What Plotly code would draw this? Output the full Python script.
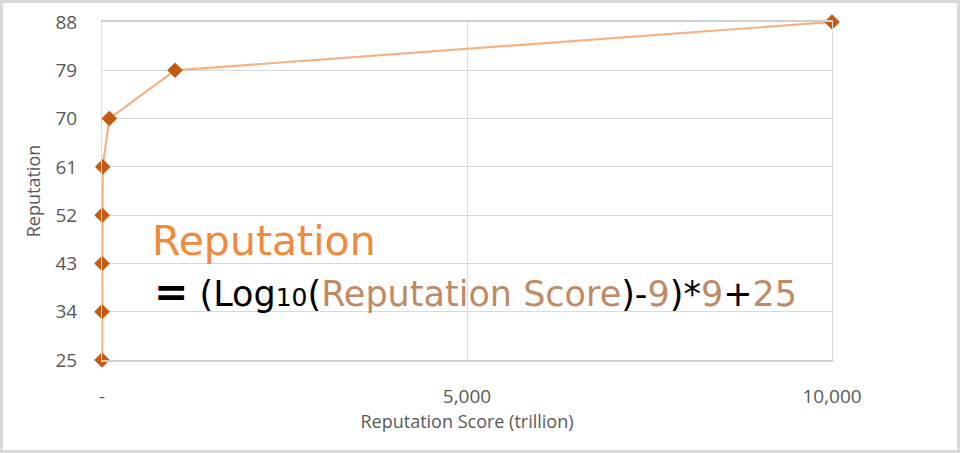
import plotly.graph_objects as go

# Data
score_trillion = [0.001, 0.01, 0.1, 1, 10, 100, 1000, 10000]
reputation = [25, 34, 43, 52, 61, 70, 79, 88]
y_ticks = [25, 34, 43, 52, 61, 70, 79, 88]
x_ticks = [0, 5000, 10000]
x_tick_labels = ["-", "5,000", "10,000"]

W, H = 960, 453
ML, MR, MT, MB = 102, 128, 22, 93
pw, ph = W - ML - MR, H - MT - MB

fig = go.Figure()
fig.add_trace(go.Scatter(
    x=score_trillion, y=reputation, mode="lines+markers",
    line=dict(color="#F4B183", width=2.2),
    marker=dict(symbol="diamond", size=12, color="#C55A11"),
    cliponaxis=False, hoverinfo="x+y", showlegend=False,
))

axis_font = dict(family="Open Sans", size=19, color="#595959")
fig.update_layout(
    width=W, height=H,
    margin=dict(l=ML, r=MR, t=MT, b=MB, autoexpand=False),
    paper_bgcolor="white", plot_bgcolor="white",
    xaxis=dict(
        range=[0, 10000], tickvals=x_ticks, ticktext=x_tick_labels,
        showgrid=True, gridcolor="#D9D9D9", gridwidth=1,
        zeroline=False, showline=True, mirror=True, linecolor="#D0D0D0", linewidth=1.5,
        ticks="", ticklabelstandoff=18,
        tickfont=axis_font,
        title=dict(text="Reputation Score (trillion)", font=dict(family="Open Sans", size=18, color="#595959"), standoff=6),
    ),
    yaxis=dict(
        range=[25, 88], tickvals=y_ticks,
        showgrid=True, gridcolor="#D9D9D9", gridwidth=1,
        zeroline=False, showline=True, mirror=True, linecolor="#D9D9D9", linewidth=1,
        ticks="", ticklabelstandoff=20,
        tickfont=axis_font,
        title=dict(text="Reputation", font=dict(family="Open Sans", size=18, color="#595959"), standoff=10),
    ),
)

# outer frame of the picture
fig.add_shape(type="rect", xref="paper", yref="paper",
              x0=-(ML - 1.5) / pw, x1=1 + (MR - 1.5) / pw,
              y0=-(MB - 1.5) / ph, y1=1 + (MT - 1.5) / ph,
              line=dict(color="#D9D9D9", width=3), fillcolor="rgba(0,0,0,0)", layer="below")

brown = "#BF8B66"
fig.add_annotation(
    xref="paper", yref="paper", x=(150 - ML) / pw, y=(360 - 241) / ph,
    xanchor="left", yanchor="middle", showarrow=False,
    text="Reputation", font=dict(family="DejaVu Sans", size=41, color="#F08A3C"),
)
formula = ("<b><span style='font-size:41px'>=</span></b>&nbsp;(Log<span style='font-size:25px'>10</span>("
           f"<span style='color:{brown}'>Reputation Score</span>)-"
           f"<span style='color:{brown}'>9</span>)*"
           f"<span style='color:{brown}'>9</span>+"
           f"<span style='color:{brown}'>25</span>")
fig.add_annotation(
    xref="paper", yref="paper", x=(152 - ML) / pw, y=(360 - 292) / ph,
    xanchor="left", yanchor="middle", showarrow=False,
    text=formula, font=dict(family="DejaVu Sans", size=35, color="black"),
)

fig.write_html("out.html", config={"displayModeBar": False},
               post_script="document.body.style.margin='0';")
